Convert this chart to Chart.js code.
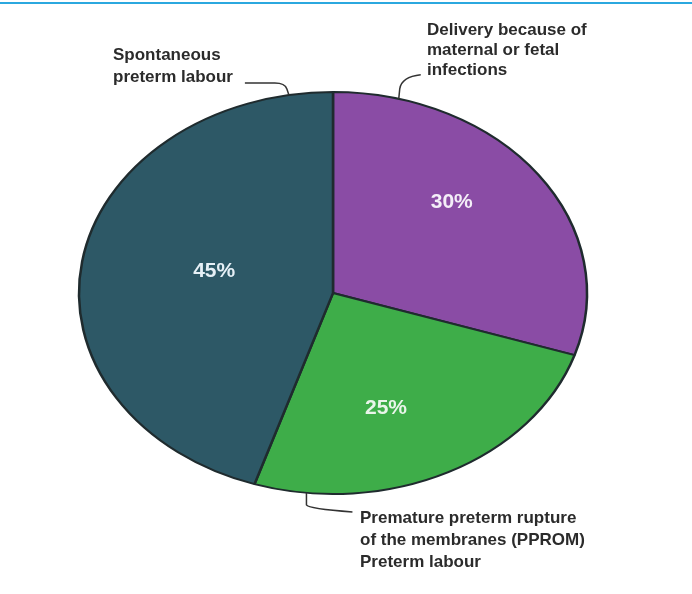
<!DOCTYPE html>
<html>
<head>
<meta charset="utf-8">
<script src="https://cdn.jsdelivr.net/npm/chart.js@4"></script>
<style>
html, body { margin: 0; padding: 0; background: #fff; }
#topline { position: absolute; left: 0; top: 2px; width: 692px; height: 2px; background: #2ba8df; }
#wrap { position: absolute; left: 0; top: 0; width: 692px; height: 594px; }
</style>
</head>
<body>
<div id="topline"></div>
<div id="wrap"><canvas id="pie"></canvas></div>
<script>
// slices go clockwise from 12 o'clock
var categories = [
    "Delivery because of maternal or fetal infections",
    "Premature preterm rupture of the membranes (PPROM) Preterm labour",
    "Spontaneous preterm labour"
];
var shares = [30, 25, 45];
var sliceColors = ["#8a4ca5", "#3ead49", "#2d5866"];

// callout text, one entry per slice, split in lines
var calloutText = [
    ["Delivery because of", "maternal or fetal", "infections"],
    ["Premature preterm rupture", "of the membranes (PPROM)", "Preterm labour"],
    ["Spontaneous", "preterm labour"]
];

var STRETCH = 254 / 201;   // pie is drawn as an ellipse, wider than tall

function ellipsePoint(arc, deg, k) {
    var a = (deg - 90) * Math.PI / 180;
    var r = arc.outerRadius * (k || 1);
    return { x: arc.x + Math.cos(a) * r * STRETCH, y: arc.y + Math.sin(a) * r };
}

var ellipsePlugin = {
    id: 'ellipse',
    beforeDatasetsDraw: function (chart) {
        var arc = chart.getDatasetMeta(0).data[0];
        var ctx = chart.ctx;
        ctx.save();
        ctx.translate(arc.x, arc.y);
        ctx.scale(STRETCH, 1);
        ctx.translate(-arc.x, -arc.y);
    },
    afterDatasetsDraw: function (chart) {
        chart.ctx.restore();
    }
};

var labelPlugin = {
    id: 'sliceLabels',
    afterDraw: function (chart) {
        var ctx = chart.ctx;
        var arcs = chart.getDatasetMeta(0).data;
        var radiusK = [0.65, 0.61, 0.48];
        var angleShift = [-8, 7, 4];
        var pctColors = ['#f4eef8', '#e9f5ea', '#e6f0f6'];

        // percentages inside the slices
        ctx.save();
        ctx.font = 'bold 21px "Liberation Sans", Arial, sans-serif';
        ctx.textAlign = 'center';
        ctx.textBaseline = 'middle';
        arcs.forEach(function (arc, i) {
            var mid = ((arc.startAngle + arc.endAngle) / 2) * 180 / Math.PI + 90 + angleShift[i];
            var p = ellipsePoint(arc, mid, radiusK[i]);
            ctx.fillStyle = pctColors[i];
            ctx.fillText(shares[i] + '%', p.x, p.y);
        });
        ctx.restore();

        // callouts with leader lines
        var a0 = arcs[0];
        ctx.save();
        ctx.strokeStyle = '#333';
        ctx.lineWidth = 1.5;

        var p = ellipsePoint(a0, 15);
        ctx.beginPath();
        ctx.moveTo(p.x, p.y);
        ctx.lineTo(p.x + 1, p.y - 10);
        ctx.quadraticCurveTo(p.x + 3, p.y - 22, p.x + 22, p.y - 24);
        ctx.stroke();

        p = ellipsePoint(a0, 186);
        ctx.beginPath();
        ctx.moveTo(p.x, p.y);
        ctx.lineTo(p.x, p.y + 12);
        ctx.quadraticCurveTo(p.x + 2, p.y + 16, p.x + 46, p.y + 19);
        ctx.stroke();

        p = ellipsePoint(a0, 350);
        ctx.beginPath();
        ctx.moveTo(p.x, p.y);
        ctx.lineTo(p.x - 2, p.y - 6);
        ctx.quadraticCurveTo(p.x - 4, p.y - 12, p.x - 14, p.y - 12);
        ctx.lineTo(p.x - 44, p.y - 12);
        ctx.stroke();

        ctx.font = 'bold 17px "Liberation Sans", Arial, sans-serif';
        ctx.fillStyle = '#2b2b2b';
        ctx.textAlign = 'left';
        ctx.textBaseline = 'middle';
        var spots = [[427, 30, 20], [360, 518, 22], [113, 55, 22]];
        calloutText.forEach(function (lines, i) {
            lines.forEach(function (t, j) {
                ctx.fillText(t, spots[i][0], spots[i][1] + j * spots[i][2]);
            });
        });
        ctx.restore();
    }
};

new Chart(document.getElementById('pie'), {
    type: 'pie',
    data: {
        labels: categories,
        datasets: [{
            data: shares,
            backgroundColor: sliceColors,
            borderColor: '#1f2b2e',
            borderWidth: 2
        }]
    },
    options: {
        responsive: true,
        maintainAspectRatio: false,
        animation: false,
        radius: 201,
        layout: { padding: { left: 0, right: 26, top: 0, bottom: 8 } },
        plugins: {
            legend: { display: false },
            tooltip: { enabled: false }
        },
        events: []
    },
    plugins: [ellipsePlugin, labelPlugin]
});
</script>
</body>
</html>
